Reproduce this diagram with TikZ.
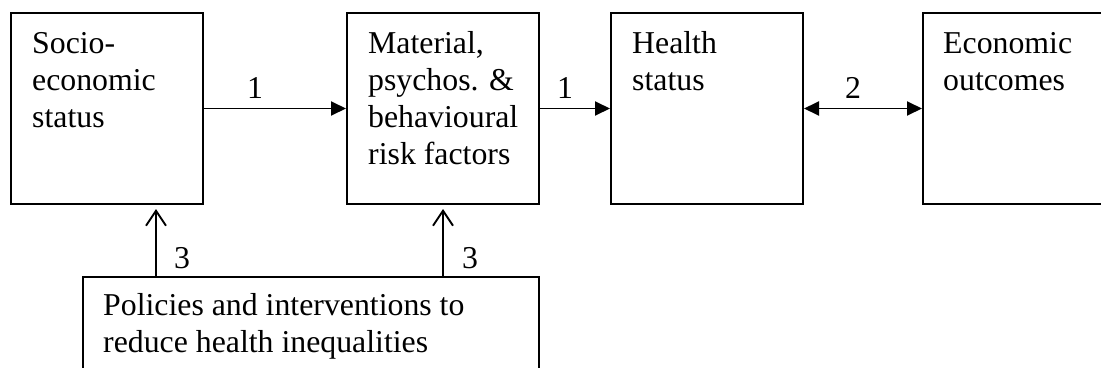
\documentclass[tikz,border=0pt]{standalone}
\usepackage{fontspec}
\setmainfont{Liberation Serif}
\usetikzlibrary{arrows.meta}
\begin{document}
\begin{tikzpicture}[x=1pt,y=-1pt,
  box/.style={draw,line width=2pt,inner sep=0pt,minimum width=192pt,minimum height=191pt},
  boxtext/.style={anchor=north west,inner sep=0pt,align=left,font=\fontsize{31.8}{37}\selectfont},
  lbl/.style={anchor=base,inner sep=0pt,font=\fontsize{31.8}{37}\selectfont},
  solidarrow/.style={line width=1.9pt,-{Triangle[length=15pt,width=14pt]}},
  bothsolid/.style={line width=1.9pt,{Triangle[length=15pt,width=14pt]}-{Triangle[length=15pt,width=14pt]}},
  openarrow/.style={line width=1.9pt,-{Straight Barb[length=15pt,width=20pt,line width=1.9pt]},shorten >=4pt}
]
\clip (0,0) rectangle (1101,367);
\useasboundingbox (0,0) rectangle (1101,367);
% boxes
\node[box] (b1) at (107,108.5) {};
\node[box] (b2) at (443,108.5) {};
\node[box] (b3) at (707,108.5) {};
\node[box,minimum width=197pt] (b4) at (1021.5,108.5) {};
\node[box,minimum width=456pt,minimum height=123pt] (b5) at (311,338.5) {};
% texts
\node[boxtext] (t1) at (32,27.1) {\strut Socio-\\economic\\status};
\node[boxtext] (t2) at (368,27.1) {\strut Material,\\psychos. \&\\behavioural\\risk factors};
\node[boxtext] (t3) at (632,27.1) {\strut Health\\status};
\node[boxtext] (t4) at (943,27.1) {\strut Economic\\outcomes};
\node[boxtext] (t5) at (103,289.1) {\strut Policies and interventions to\\reduce health inequalities};
% connectors
\draw[solidarrow] (b1.east) -- (b2.west);
\draw[solidarrow] (b2.east) -- (b3.west);
\draw[bothsolid] (b3.east) -- (b4.west);
\coordinate (p1) at (156,0);
\coordinate (p2) at (443,0);
\draw[openarrow] (b5.north -| p1) -- (b1.south -| p1);
\draw[openarrow] (b5.north -| p2) -- (b2.south -| p2);
% labels
\node[lbl] (l1) at (255,98) {1};
\node[lbl] (l2) at (565,98) {1};
\node[lbl] (l3) at (853,98) {2};
\node[lbl] (l4) at (182,268) {3};
\node[lbl] (l5) at (470,268) {3};
\end{tikzpicture}
\end{document}
